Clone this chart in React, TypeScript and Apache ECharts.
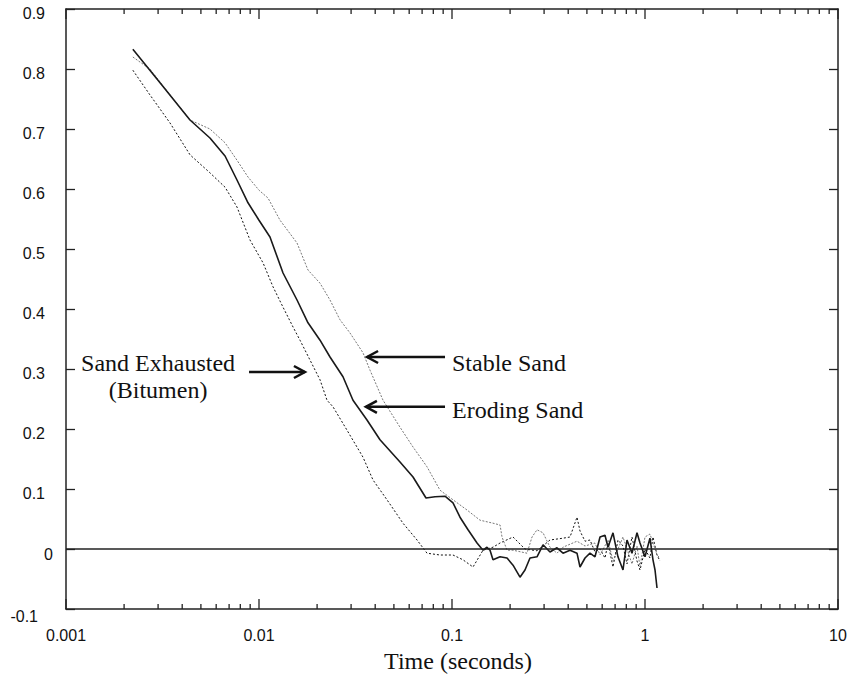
import React, { useEffect, useRef } from "react";
import * as echarts from "echarts";

// ---- data (time in seconds, normalized value) ----
const erodingSand: [number, number][] = [
  [0.00222, 0.833], [0.00307, 0.777], [0.00439, 0.715], [0.00557, 0.685], [0.00667, 0.655],
  [0.00769, 0.615], [0.00877, 0.577], [0.0100, 0.548], [0.0114, 0.52], [0.01332, 0.46],
  [0.01574, 0.415], [0.01794, 0.377], [0.02071, 0.348], [0.02333, 0.32], [0.02724, 0.287],
  [0.03069, 0.248], [0.03627, 0.215], [0.04236, 0.182], [0.05378, 0.145], [0.06281, 0.12],
  [0.07334, 0.085], [0.08165, 0.087], [0.09198, 0.088], [0.1012, 0.077], [0.11, 0.053],
  [0.1211, 0.032], [0.1348, 0.01], [0.1448, -0.002], [0.1518, 0.003], [0.1574, -0.002],
  [0.1631, -0.018], [0.1774, -0.013], [0.1928, -0.015], [0.2071, -0.027], [0.2251, -0.047],
  [0.2389, -0.035], [0.2536, -0.015], [0.2757, -0.013], [0.2962, 0.007], [0.3219, -0.005],
  [0.3499, 0.002], [0.376, -0.007], [0.4088, -0.002], [0.4443, -0.007], [0.4605, -0.03],
  [0.4889, -0.015], [0.5188, -0.007], [0.5508, -0.013], [0.5847, 0.02], [0.6205, 0.023],
  [0.6431, 0.003], [0.6826, 0.027], [0.7244, -0.013], [0.7691, -0.035], [0.8066, 0.015],
  [0.8562, -0.007], [0.9089, 0.027], [0.9421, 0.01], [1.0, -0.013], [1.061, 0.018],
  [1.1, -0.018], [1.127, -0.035], [1.154, -0.065],
];

const stableSand: [number, number][] = [
  [0.00222, 0.82], [0.00272, 0.80], [0.00346, 0.757], [0.00439, 0.715], [0.00557, 0.70],
  [0.00667, 0.677], [0.00769, 0.648], [0.00877, 0.62], [0.0100, 0.598], [0.01113, 0.585],
  [0.01285, 0.548], [0.01574, 0.51], [0.01794, 0.465], [0.02071, 0.443], [0.02333, 0.415],
  [0.02628, 0.382], [0.02962, 0.36], [0.03458, 0.327], [0.0376, 0.298], [0.04391, 0.248],
  [0.05378, 0.203], [0.06281, 0.17], [0.07422, 0.137], [0.08667, 0.098], [0.1012, 0.082],
  [0.1196, 0.065], [0.1397, 0.048], [0.1631, 0.043], [0.1774, 0.04], [0.1816, 0.02],
  [0.1928, -0.002], [0.2071, -0.002], [0.2447, -0.007], [0.2598, 0.02], [0.2757, 0.032],
  [0.2962, 0.027], [0.3219, 0.003], [0.3499, -0.007], [0.376, 0.003], [0.4088, 0.008],
  [0.4443, 0.013], [0.4889, 0.005], [0.5508, 0.01], [0.5847, -0.01], [0.6431, 0.015],
  [0.6826, -0.02], [0.7244, 0.0], [0.7691, 0.02], [0.8562, -0.025], [0.9089, 0.005],
  [0.9421, -0.03], [1.0, 0.02], [1.061, 0.025], [1.1, 0.01], [1.154, -0.01], [1.196, -0.015],
];

const sandExhausted: [number, number][] = [
  [0.00222, 0.798], [0.00272, 0.757], [0.00346, 0.71], [0.00439, 0.657], [0.00557, 0.627],
  [0.00667, 0.603], [0.00769, 0.57], [0.00898, 0.515], [0.01049, 0.477], [0.01182, 0.437],
  [0.01332, 0.403], [0.01501, 0.37], [0.01631, 0.348], [0.01837, 0.315], [0.02071, 0.282],
  [0.02251, 0.248], [0.02418, 0.237], [0.02858, 0.198], [0.03458, 0.153], [0.03897, 0.115],
  [0.04605, 0.082], [0.05572, 0.043], [0.06589, 0.015], [0.07422, -0.007], [0.08667, -0.01],
  [0.1012, -0.01], [0.114, -0.018], [0.1285, -0.03], [0.1448, -0.002], [0.1631, 0.003],
  [0.1774, 0.01], [0.2071, 0.02], [0.2389, 0.0], [0.2757, -0.003], [0.3219, 0.015],
  [0.376, 0.018], [0.4088, 0.02], [0.4443, 0.053], [0.4605, 0.03], [0.4889, 0.013],
  [0.5188, 0.015], [0.5508, -0.005], [0.5847, 0.0], [0.6205, -0.015], [0.6431, 0.01],
  [0.6826, -0.03], [0.7244, 0.015], [0.7691, 0.005], [0.8066, -0.025], [0.8562, 0.02],
  [0.9089, -0.02], [0.9421, -0.035], [1.0, 0.0], [1.061, -0.015], [1.1, 0.02],
  [1.154, -0.01], [1.196, -0.02],
];

const xMajorTicks = [0.001, 0.01, 0.1, 1, 10];
const xMinorTicks = [
  0.002, 0.003, 0.004, 0.005, 0.006, 0.007, 0.008, 0.009,
  0.02, 0.03, 0.04, 0.05, 0.06, 0.07, 0.08, 0.09,
  0.2, 0.3, 0.4, 0.5, 0.6, 0.7, 0.8, 0.9,
  2, 3, 4, 5, 6, 7, 8, 9,
];
const yTicks = [-0.1, 0, 0.1, 0.2, 0.3, 0.4, 0.5, 0.6, 0.7, 0.8, 0.9];
const yLabelsMain = [0.1, 0.2, 0.3, 0.4, 0.5, 0.6, 0.7, 0.8, 0.9];
const yLabelZero = [0];
const yLabelBottom = [-0.1];
const Y_MIN = -0.1;
const Y_MAX = 0.9;

// annotations anchored in data coordinates
const annotations = [
  { text: "Stable Sand", at: [0.1, 0.31], align: "left" },
  { text: "Eroding Sand", at: [0.1, 0.232], align: "left" },
  { text: "Sand Exhausted", at: [0.003, 0.31], align: "center" },
  { text: "(Bitumen)", at: [0.003, 0.265], align: "center" },
];
const arrows = [
  { from: [0.092, 0.32], to: [0.0363, 0.32] },
  { from: [0.092, 0.237], to: [0.0358, 0.237] },
  { from: [0.00888, 0.295], to: [0.0173, 0.295] },
];

const SANS = '"Liberation Sans", Arial, sans-serif';
const SERIF = '"Liberation Serif", "Times New Roman", serif';
const AXIS_COLOR = "#222";

const fmt = (v: number) => String(+Number(v).toPrecision(6));

export default function App() {
  const ref = useRef<HTMLDivElement>(null);

  useEffect(() => {
    if (!ref.current) return;
    const chart = echarts.init(ref.current, undefined, { renderer: "svg" });

    const logAxisBase = {
      type: "log" as const,
      logBase: 10,
      min: 0.001,
      max: 10,
      splitLine: { show: false },
      minorTick: { show: false },
      axisTick: { show: false },
    };
    const tickLine = { color: AXIS_COLOR, width: 1.3 };

    const yBase = {
      type: "value" as const,
      min: Y_MIN,
      max: Y_MAX,
      interval: 0.1,
      splitLine: { show: false },
    };
    const yLabelAxis = (vals: number[], margin: number, lineHeight: number) => ({
      ...yBase,
      position: "left",
      axisLine: { show: false, onZero: false },
      axisTick: { show: false },
      axisLabel: {
        show: true,
        customValues: vals,
        margin,
        align: "right",
        verticalAlign: "top",
        lineHeight,
        fontSize: 16,
        fontFamily: SANS,
        color: "#111",
        formatter: (v: number) => String(+Number(v).toFixed(2)),
      },
    });

    const xTickData = [
      ...xMajorTicks.map((v) => [v, Y_MIN, 10]),
      ...xMinorTicks.map((v) => [v, Y_MIN, 5]),
    ];

    const option: any = {
      animation: false,
      backgroundColor: "#fff",
      grid: { left: 66, right: 12, top: 9, bottom: 68, containLabel: false, outerBoundsMode: "none" },
      xAxis: [
        {
          ...logAxisBase,
          position: "bottom",
          axisLine: { show: true, onZero: false, lineStyle: { color: AXIS_COLOR, width: 1.5 } },
          axisLabel: {
            show: true,
            customValues: xMajorTicks,
            margin: 18,
            fontSize: 16,
            fontFamily: SANS,
            color: "#111",
            formatter: fmt,
          },
          name: "Time (seconds)",
          nameLocation: "middle",
          nameGap: 40,
          nameTextStyle: { fontSize: 24, fontFamily: SERIF, color: "#111", padding: [0, 0, 0, 12] },
        },
        {
          ...logAxisBase,
          position: "top",
          axisLine: { show: true, onZero: false, lineStyle: { color: AXIS_COLOR, width: 1.5 } },
          axisLabel: { show: false },
        },
      ],
      yAxis: [
        {
          ...yBase,
          position: "left",
          axisLine: { show: true, onZero: false, lineStyle: { color: AXIS_COLOR, width: 1.5 } },
          axisTick: { show: true, inside: true, length: 9, customValues: yTicks, lineStyle: tickLine },
          axisLabel: { show: false },
        },
        yLabelAxis(yLabelsMain, 21, 8),
        yLabelAxis(yLabelZero, 13, 10),
        yLabelAxis(yLabelBottom, 28, 14),
        {
          ...yBase,
          position: "right",
          axisLine: { show: true, onZero: false, lineStyle: { color: AXIS_COLOR, width: 1.5 } },
          axisTick: { show: true, inside: true, length: 9, customValues: yTicks, lineStyle: tickLine },
          axisLabel: { show: false },
        },
      ],
      series: [
        {
          name: "Sand Exhausted (Bitumen)",
          type: "line",
          xAxisIndex: 0,
          yAxisIndex: 0,
          data: sandExhausted,
          symbol: "none",
          lineStyle: { color: "#111", width: 1, type: [2, 2] },
          z: 3,
        },
        {
          name: "Stable Sand",
          type: "line",
          xAxisIndex: 0,
          yAxisIndex: 0,
          data: stableSand,
          symbol: "none",
          lineStyle: { color: "#777", width: 1, type: [2, 1.5] },
          z: 3,
        },
        {
          name: "Eroding Sand",
          type: "line",
          xAxisIndex: 0,
          yAxisIndex: 0,
          data: erodingSand,
          symbol: "none",
          lineStyle: { color: "#1a1a1a", width: 1.6 },
          z: 4,
          markLine: {
            silent: true,
            symbol: ["none", "none"],
            label: { show: false },
            lineStyle: { color: "#222", width: 1.5, type: "solid" },
            data: [{ yAxis: 0 }],
          },
        },
        {
          name: "xTicks",
          type: "custom",
          xAxisIndex: 0,
          yAxisIndex: 0,
          silent: true,
          clip: false,
          z: 6,
          encode: { x: 0, y: 1 },
          data: xTickData,
          renderItem: (params: any, api: any) => {
            const v = api.value(0);
            const len = api.value(2);
            const b = api.coord([v, Y_MIN]);
            const t = api.coord([v, Y_MAX]);
            const style = { stroke: AXIS_COLOR, lineWidth: 1.3 };
            return {
              type: "group",
              children: [
                { type: "line", shape: { x1: b[0], y1: b[1], x2: b[0], y2: b[1] - len }, style },
                { type: "line", shape: { x1: t[0], y1: t[1], x2: t[0], y2: t[1] + len }, style },
              ],
            };
          },
        },
      ],
    };

    chart.setOption(option);

    const px = (p: number[]) => chart.convertToPixel({ xAxisIndex: 0, yAxisIndex: 0 }, p) as number[];
    const graphics: any[] = [];
    annotations.forEach((a) => {
      const [x, y] = px(a.at);
      graphics.push({
        type: "text",
        x,
        y,
        style: {
          text: a.text,
          fontSize: 24,
          fontFamily: SERIF,
          fill: "#111",
          align: a.align,
          verticalAlign: "middle",
        },
        z: 10,
      });
    });
    arrows.forEach((a) => {
      const [x1, y1] = px(a.from);
      const [x2, y2] = px(a.to);
      const dir = x2 < x1 ? 1 : -1;
      graphics.push({
        type: "line",
        shape: { x1, y1, x2, y2 },
        style: { stroke: "#111", lineWidth: 2.5 },
        z: 10,
      });
      graphics.push({
        type: "polyline",
        shape: { points: [[x2 + dir * 11, y2 - 6], [x2, y2], [x2 + dir * 11, y2 + 6]] },
        style: { stroke: "#111", lineWidth: 2.5, fill: "none" },
        z: 10,
      });
    });
    chart.setOption({ graphic: graphics });

    return () => chart.dispose();
  }, []);

  return (
    <div
      ref={ref}
      style={{ position: "absolute", left: 0, top: 0, width: 850, height: 677 }}
    />
  );
}
